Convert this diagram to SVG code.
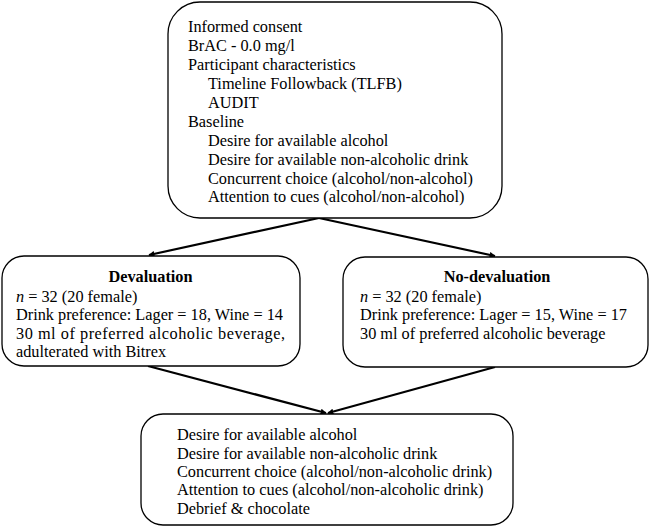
<svg xmlns="http://www.w3.org/2000/svg" width="650" height="528" viewBox="0 0 650 528">
<defs>
<marker id="ah" viewBox="0 0 10 10" refX="9" refY="5" markerWidth="6" markerHeight="6" markerUnits="userSpaceOnUse" orient="auto">
<path d="M0,0 L10,5 L0,10 z" fill="#000"/>
</marker>
<style>
.box{fill:#fff;stroke:#000;stroke-width:1.3}
text{font-family:"Liberation Serif","Times New Roman",serif;font-size:16.3px;fill:#000}
.b{font-weight:bold}
.c{stroke:#000;stroke-width:2.2;fill:none;marker-end:url(#ah)}
</style>
</defs>
<rect width="650" height="528" fill="#fff"/>
<g id="connectors">
<line class="c" x1="319" y1="218" x2="149" y2="255"/>
<line class="c" x1="319" y1="218" x2="495" y2="256"/>
<line class="c" x1="148" y1="366" x2="326" y2="413"/>
<line class="c" x1="495" y1="367" x2="328" y2="413"/>
</g>
<g id="top">
<rect class="box" x="168" y="2" width="334" height="216" rx="32"/>
<text x="188" y="32">Informed consent</text>
<text x="188" y="51">BrAC - 0.0 mg/l</text>
<text x="188" y="70">Participant characteristics</text>
<text x="208" y="89">Timeline Followback (TLFB)</text>
<text x="208" y="108">AUDIT</text>
<text x="188" y="126.5">Baseline</text>
<text x="208" y="145.5">Desire for available alcohol</text>
<text x="208" y="164.5">Desire for available non-alcoholic drink</text>
<text x="208" y="183.5">Concurrent choice (alcohol/non-alcohol)</text>
<text x="208" y="202">Attention to cues (alcohol/non-alcohol)</text>
</g>
<g id="devaluation">
<rect class="box" x="2" y="256" width="298" height="110" rx="22"/>
<text class="b" x="150.5" y="282" text-anchor="middle">Devaluation</text>
<text x="16" y="302"><tspan font-style="italic">n</tspan> = 32 (20 female)</text>
<text x="16" y="320">Drink preference: Lager = 18, Wine = 14</text>
<text x="16" y="338.5" textLength="269" lengthAdjust="spacing">30 ml of preferred alcoholic beverage,</text>
<text x="16" y="357">adulterated with Bitrex</text>
</g>
<g id="no-devaluation">
<rect class="box" x="343" y="257" width="305" height="110" rx="22"/>
<text class="b" x="497" y="282" text-anchor="middle">No-devaluation</text>
<text x="360" y="302"><tspan font-style="italic">n</tspan> = 32 (20 female)</text>
<text x="360" y="320">Drink preference: Lager = 15, Wine = 17</text>
<text x="360" y="338.5">30 ml of preferred alcoholic beverage</text>
</g>
<g id="outcome">
<rect class="box" x="141" y="414" width="372" height="111" rx="22"/>
<text x="177" y="440">Desire for available alcohol</text>
<text x="177" y="458.5">Desire for available non-alcoholic drink</text>
<text x="177" y="477">Concurrent choice (alcohol/non-alcoholic drink)</text>
<text x="177" y="495">Attention to cues (alcohol/non-alcoholic drink)</text>
<text x="177" y="513.5">Debrief &amp; chocolate</text>
</g>
</svg>
